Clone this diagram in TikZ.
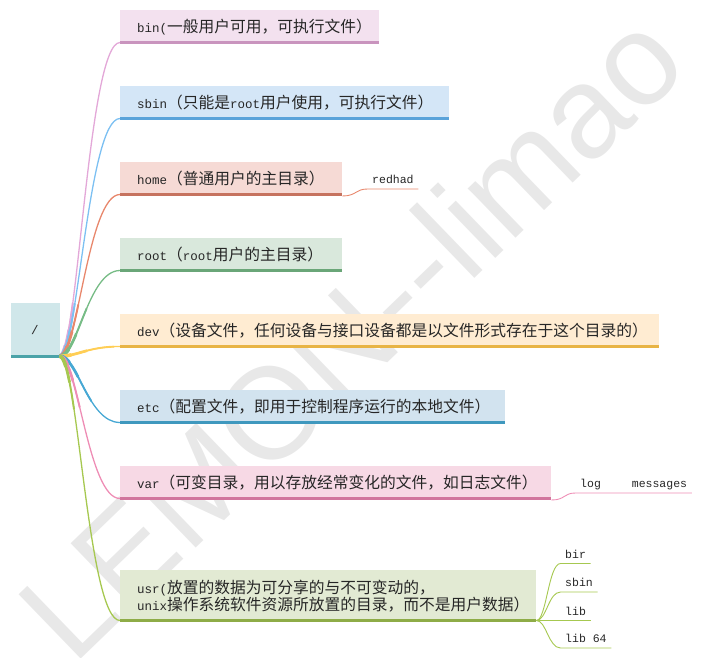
\documentclass[tikz,border=0pt]{standalone}
\usepackage{fontspec}
\setmainfont{Liberation Mono}
\newfontfamily\cjk{Noto Sans CJK SC}
\newfontfamily\wmfont{Liberation Sans}
\usetikzlibrary{calc}
\newcommand\zh[1]{{\cjk\fontsize{15.75}{17}\selectfont#1}}
\definecolor{txt}{HTML}{262626}
\definecolor{wm}{HTML}{E8E8E8}
\definecolor{slashF}{HTML}{D0E7EA}\definecolor{slashB}{HTML}{4BA3A8}
\definecolor{binF}{HTML}{F3E1EF}\definecolor{binB}{HTML}{C994BE}\definecolor{binL}{HTML}{E3A8D8}
\definecolor{sbinF}{HTML}{D4E6F7}\definecolor{sbinB}{HTML}{5AA3DA}\definecolor{sbinL}{HTML}{7CC0F2}
\definecolor{homeF}{HTML}{F6DAD5}\definecolor{homeB}{HTML}{C6735F}\definecolor{homeL}{HTML}{E8876C}
\definecolor{rootF}{HTML}{D9E8DC}\definecolor{rootB}{HTML}{6AA678}\definecolor{rootL}{HTML}{77BC86}
\definecolor{devF}{HTML}{FFECD2}\definecolor{devB}{HTML}{E8B445}\definecolor{devL}{HTML}{FFCE55}
\definecolor{etcF}{HTML}{D2E3EF}\definecolor{etcB}{HTML}{3F98BE}\definecolor{etcL}{HTML}{47A8D4}
\definecolor{varF}{HTML}{F7D9E5}\definecolor{varB}{HTML}{D1769D}\definecolor{varL}{HTML}{EE8DB5}
\definecolor{usrF}{HTML}{E2EAD3}\definecolor{usrB}{HTML}{8EAC47}\definecolor{usrL}{HTML}{A6C850}
\tikzset{
  box/.style n args={3}{anchor=south west, fill=#1, text width=#3, inner xsep=17pt,
    inner ysep=0pt, minimum height=34pt, align=left, text=txt,
    font=\fontsize{12.5}{17}\selectfont,
    path picture={\fill[#2] ([yshift=3pt]path picture bounding box.south west)
      rectangle (path picture bounding box.south east);}},
  leaf/.style={anchor=south west, inner xsep=4.5pt, inner ysep=3pt, text height=8pt,
    text depth=2pt, font=\fontsize{11.5}{13}\selectfont, text=txt},
  sub/.style={line width=0.9pt},
  wmark/.style={font=\wmfont\fontsize{130}{130}\selectfont, text=wm, rotate=44,
    anchor=base west, inner sep=0pt}
}
\newcommand\branch[2]{%
  \foreach \rr/\ww in {12/3.6,28/2.7,55/1.9}{%
    \begin{scope}
      \clip (hub) circle[radius=\rr pt];
      \draw[#1, line width=\ww pt] (hub) .. controls +(18,0) and +(-32,0) .. ([yshift=1.5pt]#2.south west);
    \end{scope}}
  \draw[#1, line width=1.3pt] (hub) .. controls +(18,0) and +(-32,0) .. ([yshift=1.5pt]#2.south west);
}
\begin{document}
\begin{tikzpicture}[x=1pt,y=-1pt]
\useasboundingbox (0,0) rectangle (702,658);
\clip (0,0) rectangle (702,658);
\node[wmark] (wmk) at (73.5,666.3) {LEMON-{}-limao};

\node[anchor=south west, fill=slashF, minimum width=49pt, minimum height=54.5pt, inner sep=0pt,
  text=txt, font=\fontsize{12.5}{17}\selectfont,
  path picture={\fill[slashB] ([yshift=3pt]path picture bounding box.south west)
      rectangle (path picture bounding box.south east);}] (slash) at (10.3,357.7) {/};
\coordinate (hub) at ([yshift=1.5pt]slash.south east);

\node[box={binF}{binB}{225pt}] (bin) at (120,44) {bin(\zh{一般用户可用，可执行文件）}};
\node[box={sbinF}{sbinB}{295pt}] (sbin) at (120,120) {sbin\zh{（只能是}root\zh{用户使用，可执行文件）}};
\node[box={homeF}{homeB}{188pt}] (home) at (120,196) {home\zh{（普通用户的主目录）}};
\node[box={rootF}{rootB}{188pt}] (root) at (120,272) {root\zh{（}root\zh{用户的主目录）}};
\node[box={devF}{devB}{505pt}] (dev) at (120,348) {dev\zh{（设备文件，任何设备与接口设备都是以文件形式存在于这个目录的）}};
\node[box={etcF}{etcB}{351pt}] (etc) at (120,424) {etc\zh{（配置文件，即用于控制程序运行的本地文件）}};
\node[box={varF}{varB}{397pt}] (var) at (120,500) {var\zh{（可变目录，用以存放经常变化的文件，如日志文件）}};
\node[box={usrF}{usrB}{382pt}, minimum height=52pt] (usr) at (120,622)
  {usr(\zh{放置的数据为可分享的与不可变动的，}\\unix\zh{操作系统软件资源所放置的目录，而不是用户数据）}};

\branch{binL}{bin}
\branch{sbinL}{sbin}
\branch{homeL}{home}
\branch{rootL}{root}
\branch{devL}{dev}
\branch{etcL}{etc}
\branch{varL}{var}
\branch{usrL}{usr}

\node[leaf] (redhad) at (367.5,189) {redhad};
\draw[homeL, sub] (home.south east) .. controls +(14,0) and +(-12,0) .. (redhad.south west) -- (redhad.south east);

\node[leaf] (logm) at (575.5,493) {log\hspace{31pt}messages};
\draw[varL, sub] (var.south east) .. controls +(14,0) and +(-12,0) .. (logm.south west) -- (logm.south east);

\node[leaf] (bir) at (560.5,563.5) {bir};
\node[leaf] (usbin) at (560.5,592) {sbin};
\node[leaf] (lib) at (560.5,620.5) {lib};
\node[leaf] (lib64) at (560.5,648) {lib 64};
\foreach \t in {bir,usbin,lib,lib64}
  \draw[usrL, sub] ([yshift=1.5pt]usr.south east) .. controls +(10,0) and +(-12,0) .. (\t.south west) -- (\t.south east);
\end{tikzpicture}
\end{document}
